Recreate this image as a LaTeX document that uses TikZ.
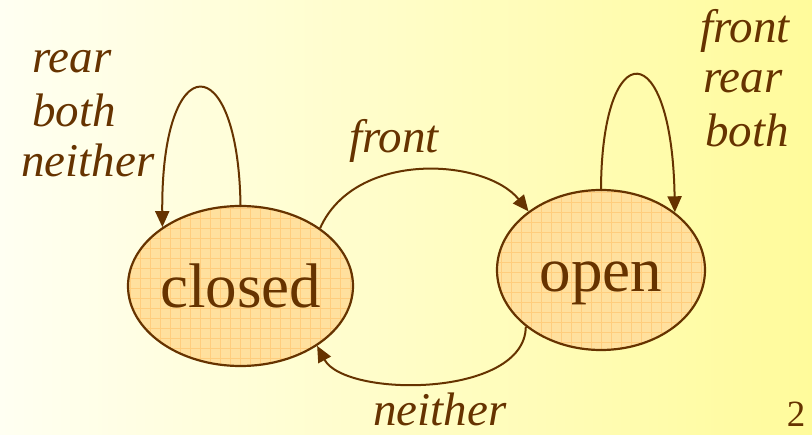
\documentclass[tikz,border=0pt]{standalone}
\usepackage{fontspec}
\setmainfont{Liberation Serif}
\usetikzlibrary{shapes.geometric,arrows.meta}
\definecolor{brn}{RGB}{102,51,0}
\definecolor{bgl}{RGB}{255,255,242}
\definecolor{bgr}{RGB}{255,251,155}
\definecolor{stfill}{RGB}{255,224,158}
\definecolor{stgrid}{RGB}{255,205,125}
\begin{document}
\begin{tikzpicture}[x=1pt,y=-1pt,
  state/.style={ellipse, draw=brn, line width=2.2pt, fill=stfill, inner sep=0pt,
    text=brn, font=\fontsize{63}{63}\selectfont, text height=44pt, text depth=0pt,
    path picture={\draw[stgrid, line width=0.7pt]
      (path picture bounding box.south west) grid[step=10pt]
      (path picture bounding box.north east);}},
  lbl/.style={text=brn, font=\fontsize{47}{50}\selectfont\itshape, inner sep=0pt, anchor=base},
  conn/.style={draw=brn, line width=2pt, -{Triangle[length=16pt,width=14pt]}}]
\useasboundingbox (0,0) rectangle (812,435);
\shade[left color=bgl, right color=bgr] (0,0) rectangle (812,435);
\begin{scope}
  \clip (0,0) rectangle (812,435);
  \node[text=brn, font=\fontsize{60}{60}\selectfont, inner sep=0pt, anchor=base] (title) at (276,-12) {g};
\end{scope}
\node[state, minimum width=225pt, minimum height=160pt] (closed) at (240.5,286) {\makebox[0pt]{closed}};
\node[state, minimum width=208pt, minimum height=160pt] (open) at (601,270) {\makebox[0pt]{open}};
% self loops
\draw[conn] (closed.north) .. controls (238,46) and (161,46) .. (closed.143.5);
\draw[conn] (open.north) .. controls (602,34) and (672,34) .. (open.38.9);
% transitions
\draw[conn] (closed.36.1) .. controls (355,150) and (485,158) .. (open.141.9);
\draw[conn] (open.217.6) .. controls (525,398) and (345,398) .. (closed.322.7);
% labels
\node[lbl] (l1a) at (72,73) {rear};
\node[lbl] (l1b) at (74,127) {both};
\node[lbl] (l1c) at (88,177) {neither};
\node[lbl] (l2a) at (745,43) {front};
\node[lbl] (l2b) at (743,93) {rear};
\node[lbl] (l2c) at (747,147) {both};
\node[lbl] (l3) at (394,153) {front};
\node[lbl] (l4) at (440,426) {neither};
\node[text=brn, font=\fontsize{37}{37}\selectfont, inner sep=0pt, anchor=base] (pg) at (796,427) {2};
\end{tikzpicture}
\end{document}
